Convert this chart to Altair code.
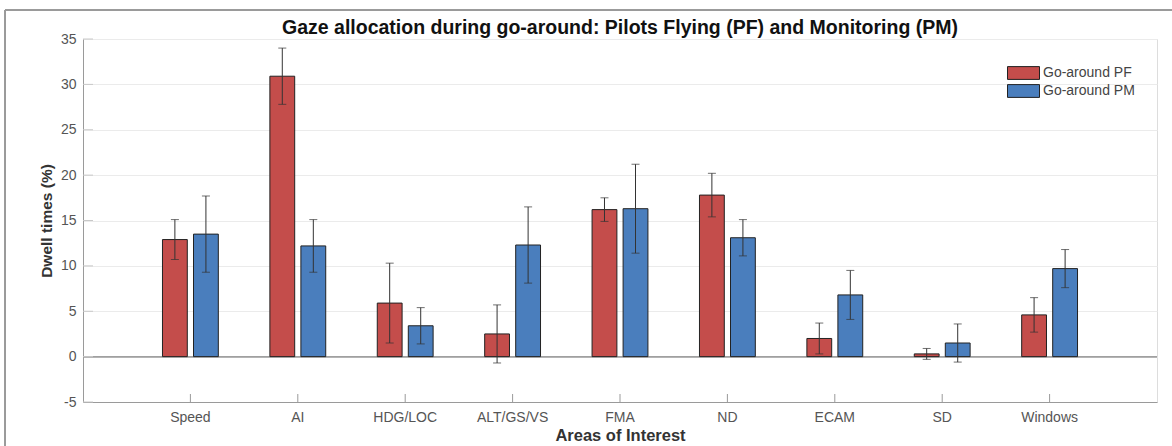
import altair as alt
import pandas as pd

categories = ["Speed", "AI", "HDG/LOC", "ALT/GS/VS", "FMA", "ND", "ECAM", "SD", "Windows"]
series_names = ["Go-around PF", "Go-around PM"]
pf_values = [12.9, 30.9, 5.9, 2.5, 16.2, 17.8, 2.0, 0.3, 4.6]
pf_errors = [2.2, 3.1, 4.4, 3.2, 1.3, 2.4, 1.7, 0.6, 1.9]
pm_values = [13.5, 12.2, 3.4, 12.3, 16.3, 13.1, 6.8, 1.5, 9.7]
pm_errors = [4.2, 2.9, 2.0, 4.2, 4.9, 2.0, 2.7, 2.1, 2.1]
y_ticks = [-5, 0, 5, 10, 15, 20, 25, 30, 35]
colors = ["#C44D4B", "#4A7EBD"]

rows = []
for name, vals, errs in [(series_names[0], pf_values, pf_errors), (series_names[1], pm_values, pm_errors)]:
    for c, v, e in zip(categories, vals, errs):
        rows.append({"aoi": c, "series": name, "value": v, "lo": v - e, "hi": v + e})
df = pd.DataFrame(rows)
cat_df = pd.DataFrame({"aoi": categories})
ytick_df = pd.DataFrame({"v": y_ticks})

FONT = "Liberation Sans"

xenc = alt.X("aoi:N", sort=categories,
             scale=alt.Scale(paddingInner=0.48, paddingOuter=0.74),
             axis=alt.Axis(title="Areas of Interest", labelAngle=0, ticks=False,
                           domainColor="#9a9a9a", labelColor="#555555", labelFontSize=14,
                           labelPadding=8, titleFontSize=16.5, titleFontWeight="bold",
                           titleColor="#333333", titlePadding=3, grid=False))
xoff = alt.XOffset("series:N", sort=series_names,
                   scale=alt.Scale(paddingInner=0.2, paddingOuter=0))
yscale = alt.Scale(domain=[-5, 35], nice=False, zero=False)

bars = alt.Chart(df).mark_bar(stroke="#222222", strokeWidth=1).encode(
    x=xenc,
    xOffset=xoff,
    y=alt.Y("value:Q", scale=yscale,
            axis=alt.Axis(title="Dwell times (%)", values=y_ticks,
                          labelExpr="'' + datum.value",
                          ticks=False, domainColor="#9a9a9a", labelColor="#555555",
                          labelFontSize=14, labelPadding=7, grid=True,
                          gridColor="#ebebeb", titleFontSize=15.5, titleFontWeight="bold",
                          titleColor="#333333", titlePadding=6)),
    color=alt.Color("series:N", sort=series_names,
                    scale=alt.Scale(domain=series_names, range=colors),
                    legend=alt.Legend(title=None, orient="none", legendX=924, legendY=25,
                                      symbolType="M-1,-0.4H1V0.4H-1Z", symbolSize=1024,
                                      symbolStrokeColor="#222222", symbolStrokeWidth=1,
                                      symbolOpacity=1, clipHeight=18, labelFontSize=14,
                                      labelColor="#444444", labelOffset=3, padding=0,
                                      rowPadding=0)),
)

err_rule = alt.Chart(df).mark_rule(color="#333333", strokeWidth=1).encode(
    x=alt.X("aoi:N", sort=categories), xOffset=xoff,
    y=alt.Y("lo:Q", scale=yscale), y2="hi:Q")
cap_hi = alt.Chart(df).mark_tick(color="#333333", thickness=1, size=8).encode(
    x=alt.X("aoi:N", sort=categories), xOffset=xoff, y=alt.Y("hi:Q", scale=yscale))
cap_lo = alt.Chart(df).mark_tick(color="#333333", thickness=1, size=8).encode(
    x=alt.X("aoi:N", sort=categories), xOffset=xoff, y=alt.Y("lo:Q", scale=yscale))

zero_line = alt.Chart(cat_df).mark_rule(color="#a0a0a0", strokeWidth=1).encode(
    y=alt.datum(0, scale=yscale))

xticks = alt.Chart(cat_df).mark_rule(color="#9a9a9a", strokeWidth=1).encode(
    x=alt.X("aoi:N", sort=categories), y=alt.value(363), y2=alt.value(355))

yticks = alt.Chart(ytick_df).mark_rule(color="#c8c8c8", strokeWidth=1).encode(
    y=alt.Y("v:Q", scale=yscale), x=alt.value(0), x2=alt.value(10))

frame = alt.Chart(cat_df).mark_rect(fill=None, stroke="#9a9a9a", strokeWidth=1).encode(
    x=alt.value(-78), x2=alt.value(1100), y=alt.value(-29), y2=alt.value(420))

chart = alt.layer(zero_line, yticks, bars, err_rule, cap_hi, cap_lo, xticks, frame).properties(
    width=1074, height=363,
    title=alt.TitleParams("Gaze allocation during go-around: Pilots Flying (PF) and Monitoring (PM)",
                          fontSize=19.5, fontWeight="bold", anchor="middle", color="#111111",
                          offset=-29, font=FONT),
    autosize=alt.AutoSizeParams(type="none"),
    padding={"left": 83, "top": 39, "right": 15, "bottom": 44},
).configure_view(stroke=None).configure(font=FONT, background="white")

chart.save("out.html", embed_options={"renderer": "svg", "actions": False})
